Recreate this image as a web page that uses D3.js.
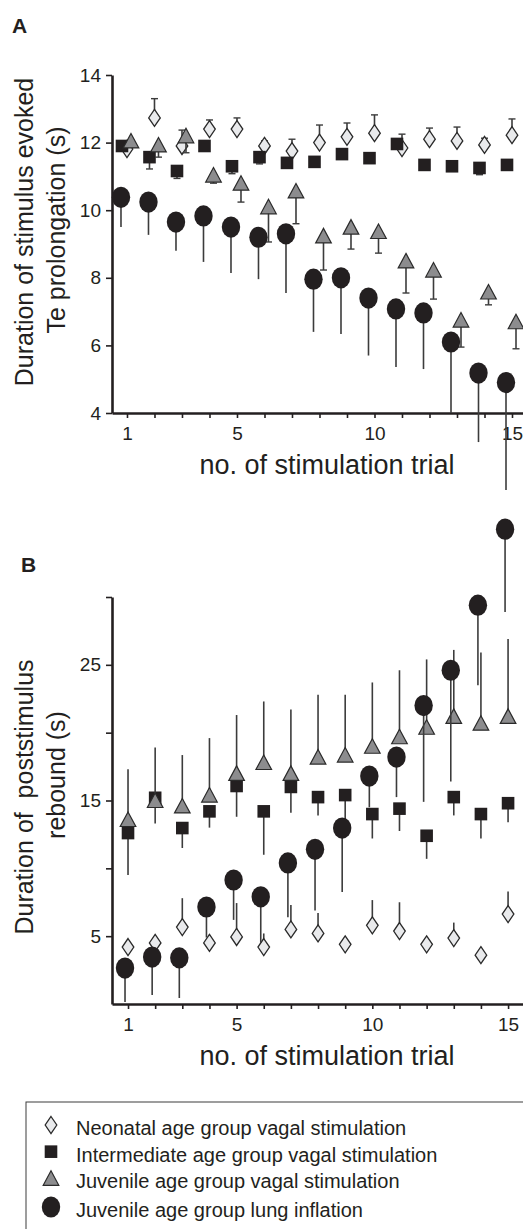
<!DOCTYPE html>
<html>
<head>
<meta charset="utf-8">
<script src="https://cdn.jsdelivr.net/npm/d3@7"></script>
<style>
  body { margin: 0; background: #fff; }
  svg text { font-family: "Liberation Sans", Arial, sans-serif; fill: #231f20; }
</style>
</head>
<body>
<svg id="fig" width="523" height="1229"></svg>
<script>
// ---- datos ----
var trials = [1, 2, 3, 4, 5, 6, 7, 8, 9, 10, 11, 12, 13, 14, 15];
var labeledTrials = [1, 5, 10, 15];

// A: duración de la prolongación Te (s)
var aNeonatal      = [11.81, 12.73, 11.9, 12.4, 12.4, 11.9, 11.75, 12.0, 12.17, 12.28, 11.84, 12.1, 12.05, 11.93, 12.22];
var aNeonatalErr   = [0.1, 0.57, 0.47, 0.27, 0.33, 0.15, 0.35, 0.52, 0.41, 0.54, 0.41, 0.33, 0.41, 0.2, 0.48];
var aInterm        = [11.9, 11.57, 11.16, 11.9, 11.3, 11.57, 11.4, 11.43, 11.66, 11.54, 11.96, 11.34, 11.3, 11.25, 11.34];
var aIntermErr     = [0.05, 0.35, 0.22, 0.05, 0.22, 0.2, 0.15, 0.12, 0.1, 0.12, 0.1, 0.12, 0.15, 0.2, 0.15];
var aJuvVagal      = [12.05, 11.93, 12.2, 11.04, 10.8, 10.1, 10.57, 9.24, 9.5, 9.37, 8.5, 8.23, 6.75, 7.58, 6.7];
var aJuvVagalErr   = [0.1, 0.36, 0.5, 0.24, 0.56, 1.04, 0.97, 1.01, 0.65, 0.64, 0.95, 0.86, 0.8, 0.38, 0.8];
var aJuvLung       = [10.38, 10.24, 9.65, 9.83, 9.5, 9.2, 9.3, 7.96, 8.0, 7.4, 7.08, 6.96, 6.1, 5.18, 4.9];
var aJuvLungErr    = [0.88, 0.97, 0.85, 1.36, 1.36, 1.24, 1.75, 1.56, 1.66, 1.7, 1.72, 1.66, 2.1, 2.04, 3.18];
var aTicks = [4, 6, 8, 10, 12, 14];

// B: duración del rebote poststímulo (s)
var bNeonatal      = [4.2, 4.5, 5.67, 4.5, 4.94, 4.2, 5.5, 5.2, 4.4, 5.8, 5.38, 4.4, 4.86, 3.6, 6.63];
var bNeonatalErr   = [0.3, 0.5, 2.13, 0.6, 2.5, 1.0, 1.8, 1.5, 0.3, 1.86, 2.12, 0.3, 1.14, 0.3, 1.67];
var bInterm        = [12.6, 15.2, 12.97, 14.2, 16.07, 14.2, 16.0, 15.25, 15.4, 14.0, 14.4, 12.4, 15.25, 14.0, 14.8];
var bIntermErr     = [3.1, 1.9, 1.47, 1.2, 2.27, 3.2, 1.9, 1.35, 1.8, 1.8, 1.65, 1.7, 1.35, 1.8, 1.4];
var bJuvVagal      = [13.6, 15.0, 14.6, 15.4, 17.0, 17.8, 17.0, 18.2, 18.35, 19.0, 19.7, 20.4, 21.2, 20.7, 21.2];
var bJuvVagalErr   = [3.7, 3.9, 3.75, 4.2, 4.3, 4.5, 4.7, 4.6, 4.45, 4.7, 4.9, 5.0, 4.9, 5.2, 5.7];
var bJuvLung       = [2.65, 3.46, 3.4, 7.15, 9.14, 7.9, 10.4, 11.4, 12.97, 16.8, 18.2, 22.0, 24.6, 29.4, 35.0];
var bJuvLungErr    = [2.5, 2.8, 2.96, 2.25, 2.94, 3.4, 4.0, 4.5, 4.72, 2.3, 2.95, 7.1, 8.2, 5.9, 6.1];
var bTicks = [5, 10, 15, 20, 25, 30];
var bLabeledTicks = [5, 15, 25];

var legendNames = [
	"Neonatal age group vagal stimulation",
	"Intermediate age group vagal stimulation",
	"Juvenile age group vagal stimulation",
	"Juvenile age group lung inflation"
];

// ---- dibujo ----
var svg = d3.select("#fig");
var INK = "#231f20";

// símbolos centrados en (0,0)
function drawSymbol(g, shape) {
	if (shape == "diamond") {
		g.append("path").attr("d", "M0,-8.5L5.8,0L0,8.5L-5.8,0Z")
			.attr("fill", "#e9eaec").attr("stroke", "#2a2a2a").attr("stroke-width", 1.3);
	} else if (shape == "square") {
		g.append("rect").attr("x", -6.3).attr("y", -6.3).attr("width", 12.6).attr("height", 12.6)
			.attr("fill", INK);
	} else if (shape == "triangle") {
		g.append("path").attr("d", "M0,-7.5L7.8,7L-7.8,7Z")
			.attr("fill", "#8c8c8e").attr("stroke", "#2a2a2a").attr("stroke-width", 1.2);
	} else {
		g.append("ellipse").attr("rx", 9.2).attr("ry", 10.6).attr("fill", INK);
	}
}

function drawPanel(opt) {
	var x = d3.scaleLinear().domain(opt.xDomain).range([112, 523]);
	var y = d3.scaleLinear().domain(opt.yDomain).range(opt.yRange);
	var g = svg.append("g");

	// ejes
	var yAxis = g.append("g").attr("transform", "translate(112,0)")
		.call(d3.axisLeft(y).tickValues(opt.yTicks).tickSize(6).tickSizeOuter(0).tickPadding(5)
			.tickFormat(function(d) { return opt.yLabeled.indexOf(d) >= 0 ? d : ""; }));
	var xAxis = g.append("g").attr("transform", "translate(0," + opt.yRange[0] + ")")
		.call(d3.axisBottom(x).tickValues(trials).tickSize(5).tickSizeOuter(0).tickPadding(9)
			.tickFormat(function(d) { return labeledTrials.indexOf(d) >= 0 ? d : ""; }));
	[yAxis, xAxis].forEach(function(a) {
		a.select(".domain").attr("stroke", INK).attr("stroke-width", 2.6);
		a.selectAll(".tick line").attr("stroke", INK).attr("stroke-width", 1.6);
		a.selectAll(".tick text").attr("font-size", 19).style("fill", INK);
	});

	// series: error bar + marcador
	opt.series.forEach(function(s) {
		var sg = g.append("g");
		trials.forEach(function(t, i) {
			var cx = x(t) + s.dx;
			var cy = y(s.mean[i]);
			var ey = y(s.mean[i] + s.dir * s.err[i]);
			sg.append("line").attr("x1", cx).attr("x2", cx).attr("y1", cy).attr("y2", ey)
				.attr("stroke", "#3c3c3c").attr("stroke-width", 1.6);
			if (s.cap) {
				sg.append("line").attr("x1", cx - 3.5).attr("x2", cx + 3.5).attr("y1", ey).attr("y2", ey)
					.attr("stroke", "#3c3c3c").attr("stroke-width", 1.4);
			}
			drawSymbol(sg.append("g").attr("transform", "translate(" + cx + "," + cy + ")"), s.shape);
		});
	});

	// títulos
	g.append("text").attr("x", 327).attr("y", opt.yRange[0] + 61)
		.attr("text-anchor", "middle").attr("font-size", 27).text("no. of stimulation trial");
	opt.yTitle.forEach(function(l) {
		g.append("text").attr("transform", "translate(" + l.x + "," + l.y + ") rotate(-90)")
			.attr("text-anchor", "middle").attr("font-size", 25)
			.style("white-space", "pre").text(l.text);
	});
	g.append("text").attr("x", opt.letter.x).attr("y", opt.letter.y)
		.attr("font-size", 21).attr("font-weight", "bold").text(opt.letter.text);
}

drawPanel({
	xDomain: [0.455, 15.4], yDomain: [4, 14], yRange: [413, 75],
	yTicks: aTicks, yLabeled: aTicks,
	letter: {text: "A", x: 12, y: 33},
	yTitle: [{text: "Duration of stimulus evoked", x: 33, y: 232},
	         {text: "Te prolongation (s)", x: 65, y: 230}],
	series: [
		{shape: "diamond",  mean: aNeonatal, err: aNeonatalErr, dir: 1,  dx: 0,  cap: true},
		{shape: "square",   mean: aInterm,   err: aIntermErr,   dir: -1, dx: -5, cap: true},
		{shape: "triangle", mean: aJuvVagal, err: aJuvVagalErr, dir: -1, dx: 4,  cap: true},
		{shape: "circle",   mean: aJuvLung,  err: aJuvLungErr,  dir: -1, dx: -6, cap: false}
	]
});

drawPanel({
	xDomain: [0.41, 15.55], yDomain: [0, 30], yRange: [1004, 597],
	yTicks: bTicks, yLabeled: bLabeledTicks,
	letter: {text: "B", x: 21, y: 572},
	yTitle: [{text: "Duration of  poststimulus", x: 33, y: 797},
	         {text: "rebound (s)", x: 65, y: 775}],
	series: [
		{shape: "diamond",  mean: bNeonatal, err: bNeonatalErr, dir: 1,  dx: 0,  cap: false},
		{shape: "square",   mean: bInterm,   err: bIntermErr,   dir: -1, dx: 0,  cap: false},
		{shape: "triangle", mean: bJuvVagal, err: bJuvVagalErr, dir: 1,  dx: 0,  cap: false},
		{shape: "circle",   mean: bJuvLung,  err: bJuvLungErr,  dir: -1, dx: -3, cap: false}
	]
});

// leyenda
var legend = svg.append("g");
legend.append("rect").attr("x", 26).attr("y", 1102).attr("width", 520).attr("height", 150)
	.attr("fill", "none").attr("stroke", "#3c3c3c").attr("stroke-width", 1);
var legendShapes = ["diamond", "square", "triangle", "circle"];
var legendRow = d3.scalePoint().domain(legendNames).range([1125, 1205]);
legendNames.forEach(function(name, i) {
	var cy = legendRow(name) + (i == 3 ? 2 : 0);
	drawSymbol(legend.append("g").attr("transform", "translate(51," + cy + ")"), legendShapes[i]);
	legend.append("text").attr("x", 76).attr("y", cy + 10).attr("font-size", 20).text(name);
});
</script>
</body>
</html>
